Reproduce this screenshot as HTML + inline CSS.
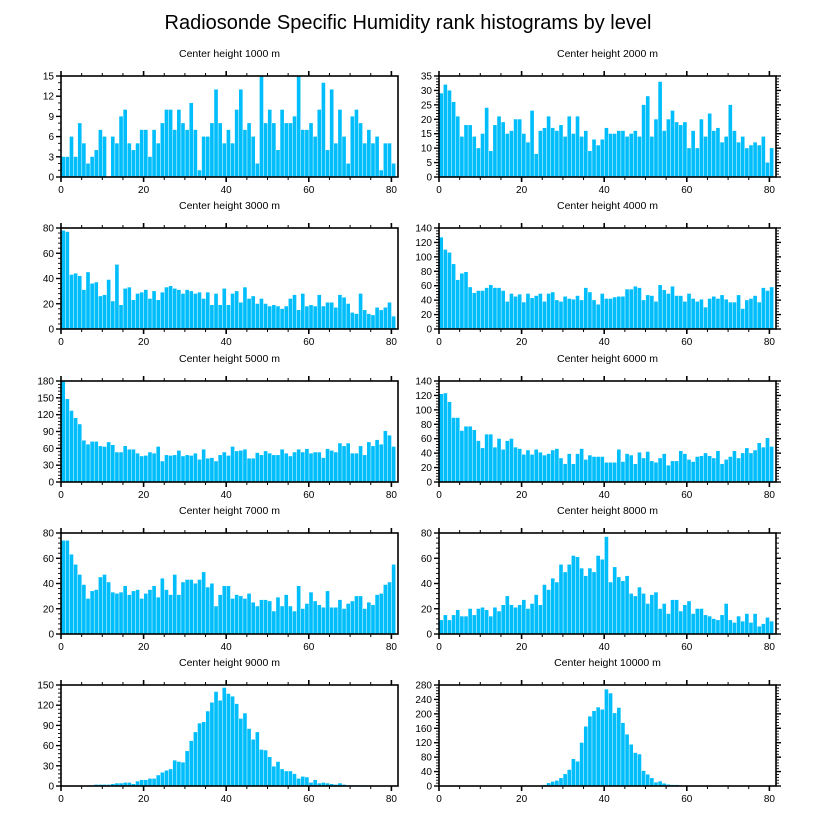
<!DOCTYPE html>
<html><head><meta charset="utf-8">
<style>
html,body{margin:0;padding:0;background:#fff;}
svg{display:block;font-family:"Liberation Sans",Arial,sans-serif;}
</style></head>
<body>
<svg id="chart" width="816" height="824" viewBox="0 0 816 824">
<text x="408" y="29" text-anchor="middle" font-size="20">Radiosonde Specific Humidity rank histograms by level</text>
</svg>
<script>
const titles = ["Center height 1000 m","Center height 2000 m","Center height 3000 m","Center height 4000 m","Center height 5000 m","Center height 6000 m","Center height 7000 m","Center height 8000 m","Center height 9000 m","Center height 10000 m"];
const yMax = [15,35,80,140,180,140,80,80,150,280];
const yStep = [3,5,20,20,30,20,20,20,30,40];
const xTicks = [0,20,40,60,80];
const h1000 = [3,3,6,3,8,5,2,3,4,7,6,0,6,5,9,10,5,4,5,7,7,3,7,5,8,10,10,7,10,8,7,11,7,1,6,6,8,13,8,5,7,5,10,13,7,8,6,2,15,8,10,8,4,10,8,8,9,15,7,7,8,6,10,14,4,13,5,10,6,2,9,10,8,5,7,5,6,1,5,5,2];
const h2000 = [29,32,30,26,21,14,18,18,14,10,15,24,9,18,21,19,15,16,20,20,15,12,23,8,16,17,21,17,16,18,14,21,15,21,14,16,9,13,11,13,17,15,15,16,16,14,15,16,14,25,28,14,20,33,16,20,23,19,18,19,10,16,10,20,14,22,16,17,12,14,25,16,12,14,10,11,12,11,14,5,10];
const h3000 = [78,77,43,44,42,31,45,36,37,26,27,39,22,51,19,32,33,23,28,29,31,24,30,23,29,33,34,32,31,28,31,30,28,29,24,29,19,28,19,32,19,28,30,21,33,24,26,20,24,20,18,19,18,16,18,24,27,15,28,18,19,18,27,18,21,21,17,27,25,20,13,12,28,15,12,11,17,15,17,21,10];
const h4000 = [127,110,106,90,68,77,79,58,50,53,53,57,61,57,57,53,38,49,45,48,37,49,43,46,49,38,49,51,40,38,45,42,41,46,40,57,51,40,34,49,42,42,44,45,45,55,55,59,57,40,47,46,38,61,54,49,59,46,46,38,49,42,38,41,30,42,45,42,47,41,37,37,47,28,40,42,46,37,57,53,58];
const h5000 = [180,148,127,114,103,74,67,72,72,64,63,71,66,53,53,64,58,58,51,46,47,53,51,63,37,48,47,48,56,46,48,47,51,40,58,42,43,37,48,53,47,63,55,56,58,42,42,52,48,55,51,48,48,58,51,46,53,58,53,59,51,53,53,43,59,56,53,69,64,69,51,51,64,48,71,64,75,67,91,83,63];
const h6000 = [122,123,111,89,89,71,77,77,72,57,47,66,66,48,60,45,57,60,48,46,38,44,38,45,41,37,39,44,46,33,25,39,25,39,46,31,37,35,35,35,27,27,27,45,28,39,37,25,41,33,42,29,27,33,39,23,29,29,43,39,31,28,35,36,40,36,33,43,25,31,35,43,33,40,47,40,44,54,48,61,49];
const h7000 = [74,74,63,55,47,39,28,34,35,45,47,41,33,32,33,38,31,34,35,28,32,35,38,29,44,35,31,47,31,41,43,43,40,43,49,37,40,22,31,38,38,28,31,30,28,32,25,22,27,27,26,18,29,22,31,22,18,38,20,24,33,26,23,21,34,21,21,27,20,24,26,30,30,20,25,23,31,32,39,41,55];
const h8000 = [11,15,11,15,19,14,14,20,15,20,21,19,14,21,18,23,30,23,21,23,27,20,24,31,23,39,35,44,41,55,49,55,62,61,52,46,52,49,62,59,77,41,53,45,42,46,32,30,37,32,24,31,33,20,24,16,27,27,18,23,26,16,20,20,15,14,12,11,15,24,11,9,14,10,16,9,16,6,8,13,10];
const h9000 = [0,0,0,0,0,0,1,1,2,2,2,2,3,4,4,5,5,3,7,9,9,11,11,16,20,23,25,38,36,35,52,67,80,93,95,111,124,140,127,146,137,133,122,100,108,85,69,80,54,53,43,29,36,25,22,22,18,11,14,13,5,9,4,5,4,3,2,4,2,1,1,1,1,1,0,0,0,0,0,0,0];
const h10000 = [0,0,0,0,0,0,0,0,0,0,0,0,0,0,0,0,0,0,0,0,0,0,0,0,1,3,8,12,15,22,33,45,75,68,120,165,193,208,218,212,268,257,202,217,175,143,115,92,88,42,32,22,10,13,7,4,3,3,2,1,0,0,0,0,0,0,0,0,0,0,0,0,0,0,0,0,0,0,0,0,0];
const series = [h1000,h2000,h3000,h4000,h5000,h6000,h7000,h8000,h9000,h10000];

const NS = "http://www.w3.org/2000/svg";
const svg = document.getElementById("chart");
function mk(tag, attrs, parent){
  const e = document.createElementNS(NS, tag);
  for (const k in attrs) e.setAttribute(k, attrs[k]);
  (parent||svg).appendChild(e);
  return e;
}
const XMAX = 81.6;
const colLeft = [61, 439];
const PW = 337;
const rowTop = [76, 228, 381, 533, 685];
const PH = 101;

for (let p = 0; p < 10; p++) {
  const col = p % 2, row = Math.floor(p / 2);
  const L = colLeft[col], T = rowTop[row], B = T + PH, R = L + PW;
  const xs = v => L + v / XMAX * PW;
  const ys = v => B - v / yMax[p] * PH;
  const g = mk("g", {});
  
  

  const t = mk("text", {x: (L+R)/2, y: T - 19, "text-anchor": "middle", "font-size": "10.5"}, g);
  t.textContent = titles[p];
  
  

  const data = series[p];
  for (let i = 0; i < data.length; i++) {
    if (data[i] <= 0) continue;
    const x0 = xs(i + 0.1), x1 = xs(i + 1.1);
    const r = mk("rect", {x: x0, y: ys(data[i]), width: Math.max(0, x1 - x0 - 0.5), height: B - ys(data[i]), fill: "#00bdfb"}, g);
    
    
  }

  const fr = mk("rect", {x: L, y: T, width: PW, height: PH, fill: "none", stroke: "#000", "stroke-width": "1.6"}, g);
  
  

  // x ticks (bottom and top, outward)
  for (let v = 0; v <= 80; v += 5) {
    const major = v % 20 === 0, len = major ? 5 : 3, x = xs(v);
    mk("line", {x1: x, x2: x, y1: B, y2: B + len, stroke: "#000", "stroke-width": major ? 1.6 : 1}, g);
    mk("line", {x1: x, x2: x, y1: T, y2: T - len, stroke: "#000", "stroke-width": major ? 1.6 : 1}, g);
  }
  for (const v of xTicks) {
    const tl = mk("text", {x: xs(v), y: B + 16, "text-anchor": "middle", "font-size": "10"}, g);
    tl.textContent = v;
    
    
  }
  // y ticks
  const minor = yStep[p] / ( (yStep[p] % 3 === 0 && yStep[p] !== 30) ? 3 : 5);
  for (let v = 0; v <= yMax[p] + 1e-9; v += minor) {
    const isMaj = Math.abs(v / yStep[p] - Math.round(v / yStep[p])) < 1e-6;
    const len = isMaj ? 5 : 3, y = ys(v);
    mk("line", {x1: L, x2: L - len, y1: y, y2: y, stroke: "#000", "stroke-width": isMaj ? 1.4 : 0.9}, g);
    if (col === 1) mk("line", {x1: R, x2: R + len, y1: y, y2: y, stroke: "#000", "stroke-width": isMaj ? 1.4 : 0.9}, g);
  }
  for (let v = 0; v <= yMax[p] + 1e-9; v += yStep[p]) {
    const yl = mk("text", {x: L - 7, y: ys(v) + 3.5, "text-anchor": "end", "font-size": "10"}, g);
    yl.textContent = v;
    
    
  }
}
</script>
</body></html>
